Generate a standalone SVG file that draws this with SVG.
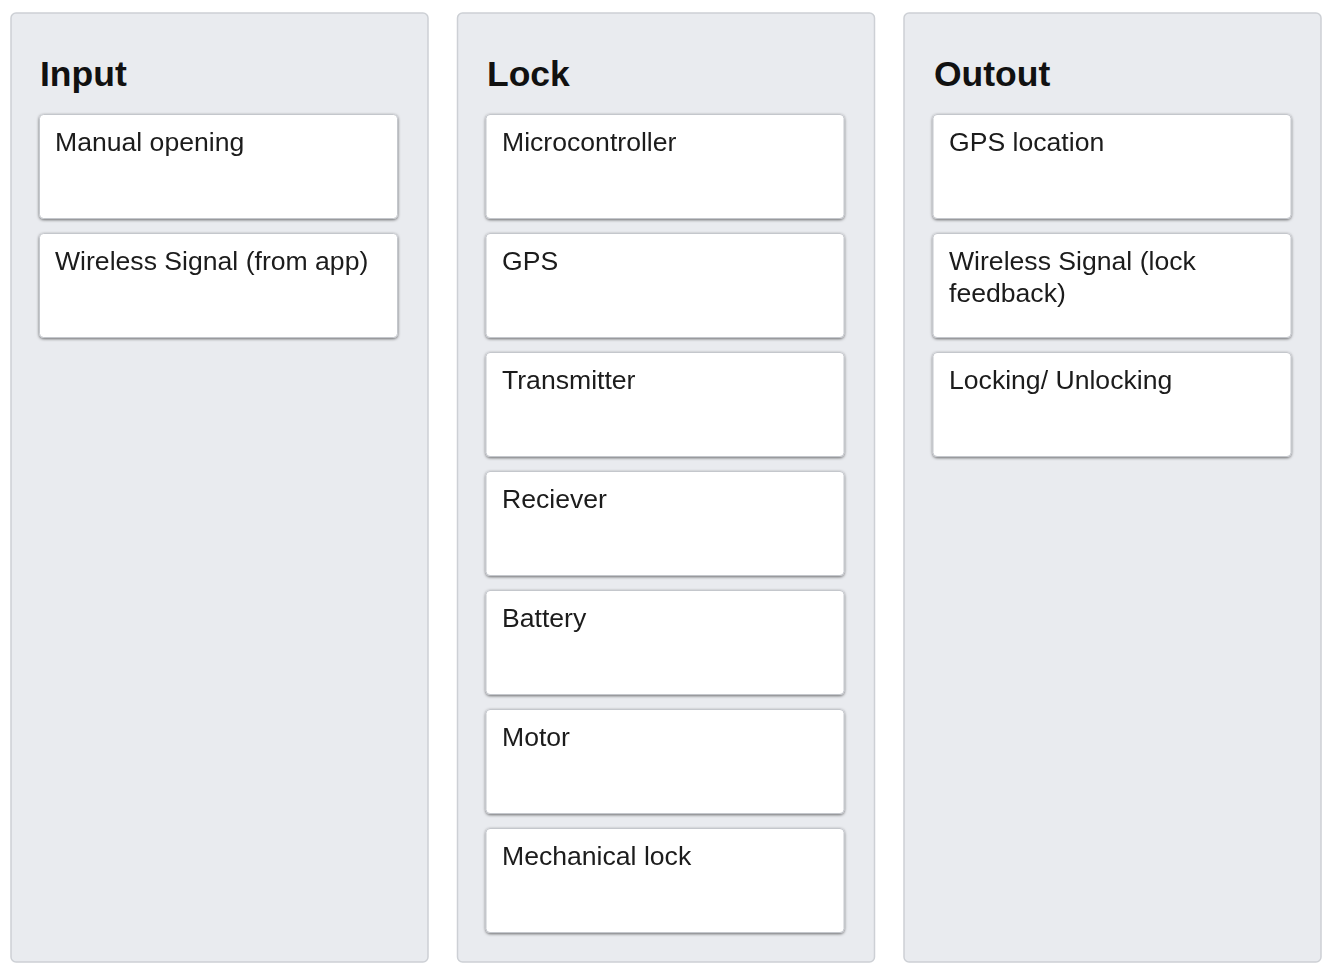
<svg xmlns="http://www.w3.org/2000/svg" width="1334" height="976" viewBox="0 0 1334 976">
<defs>
<style>
.panel{fill:#e9ebef;stroke:#cdd0d5;stroke-width:1.5}
.card{fill:#ffffff;stroke:#c4c7cc;stroke-width:1}
.title{font-family:"Liberation Sans",Arial,sans-serif;font-weight:bold;font-size:35.5px;fill:#111111}
.txt{font-family:"Liberation Sans",Arial,sans-serif;font-size:26.6px;fill:#1a1a1a}
</style>
<filter id="sh" x="-10%" y="-20%" width="120%" height="140%">
<feDropShadow dx="0" dy="1" stdDeviation="1.8" flood-color="#000000" flood-opacity="0.55"/>
</filter>
</defs>
<rect width="1334" height="976" fill="#ffffff"/>
<g id="panel-input">
<rect class="panel" x="11" y="13" width="417" height="949" rx="5"/>
<text class="title" x="40" y="86">Input</text>
</g>
<g id="panel-lock">
<rect class="panel" x="457.5" y="13" width="417" height="949" rx="5"/>
<text class="title" x="487" y="86">Lock</text>
</g>
<g id="panel-output">
<rect class="panel" x="904" y="13" width="417" height="949" rx="5"/>
<text class="title" x="934" y="86">Outout</text>
</g>
<g id="connectors"></g>
<g id="n-manual" filter="url(#sh)"><rect class="card" x="39.5" y="114.5" width="358" height="104" rx="4"/><text class="txt" x="55" y="151">Manual opening</text></g>
<g id="n-wireless-in" filter="url(#sh)"><rect class="card" x="39.5" y="233.5" width="358" height="104" rx="4"/><text class="txt" x="55" y="270">Wireless Signal (from app)</text></g>
<g id="n-micro" filter="url(#sh)"><rect class="card" x="486" y="114.5" width="358" height="104" rx="4"/><text class="txt" x="502" y="151">Microcontroller</text></g>
<g id="n-gps" filter="url(#sh)"><rect class="card" x="486" y="233.5" width="358" height="104" rx="4"/><text class="txt" x="502" y="270">GPS</text></g>
<g id="n-transmitter" filter="url(#sh)"><rect class="card" x="486" y="352.5" width="358" height="104" rx="4"/><text class="txt" x="502" y="389">Transmitter</text></g>
<g id="n-receiver" filter="url(#sh)"><rect class="card" x="486" y="471.5" width="358" height="104" rx="4"/><text class="txt" x="502" y="508">Reciever</text></g>
<g id="n-battery" filter="url(#sh)"><rect class="card" x="486" y="590.5" width="358" height="104" rx="4"/><text class="txt" x="502" y="627">Battery</text></g>
<g id="n-motor" filter="url(#sh)"><rect class="card" x="486" y="709.5" width="358" height="104" rx="4"/><text class="txt" x="502" y="746">Motor</text></g>
<g id="n-mechlock" filter="url(#sh)"><rect class="card" x="486" y="828.5" width="358" height="104" rx="4"/><text class="txt" x="502" y="865">Mechanical lock</text></g>
<g id="n-gpsloc" filter="url(#sh)"><rect class="card" x="933" y="114.5" width="358" height="104" rx="4"/><text class="txt" x="949" y="151">GPS location</text></g>
<g id="n-wireless-out" filter="url(#sh)"><rect class="card" x="933" y="233.5" width="358" height="104" rx="4"/><text class="txt" x="949" y="270">Wireless Signal (lock</text><text class="txt" x="949" y="302">feedback)</text></g>
<g id="n-locking" filter="url(#sh)"><rect class="card" x="933" y="352.5" width="358" height="104" rx="4"/><text class="txt" x="949" y="389">Locking/ Unlocking</text></g>
</svg>
